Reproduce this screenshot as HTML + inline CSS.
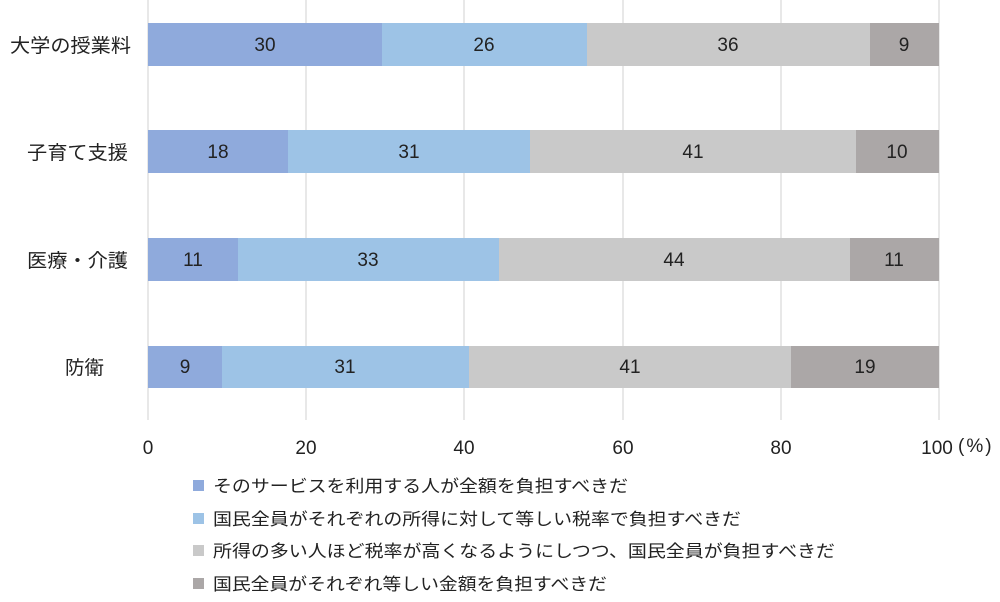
<!DOCTYPE html>
<html><head><meta charset="utf-8"><style>
body{margin:0;width:1000px;height:597px;background:#fff;overflow:hidden;font-family:"Liberation Sans","Noto Sans CJK JP",sans-serif;}
svg text{font-family:"Liberation Sans","Noto Sans CJK JP",sans-serif;}
</style></head><body>
<svg width="1000" height="597" xmlns="http://www.w3.org/2000/svg">
<g stroke="#d9d9d9" stroke-width="1.2">
<line x1="148" y1="0" x2="148" y2="420"/><line x1="306" y1="0" x2="306" y2="420"/><line x1="464" y1="0" x2="464" y2="420"/><line x1="623" y1="0" x2="623" y2="420"/><line x1="781" y1="0" x2="781" y2="420"/><line x1="939" y1="0" x2="939" y2="420"/>
</g>
<g font-size="19" fill="#222" text-anchor="middle">
<rect x="148" y="23" width="234" height="43" fill="#8FAADC"/><rect x="382" y="23" width="205" height="43" fill="#9DC3E6"/><rect x="587" y="23" width="283" height="43" fill="#C9C9C9"/><rect x="870" y="23" width="69" height="43" fill="#ABA7A7"/>
<text x="265" y="51">30</text><text x="484" y="51">26</text><text x="728" y="51">36</text><text x="904" y="51">9</text>
<rect x="148" y="130" width="140" height="43" fill="#8FAADC"/><rect x="288" y="130" width="242" height="43" fill="#9DC3E6"/><rect x="530" y="130" width="326" height="43" fill="#C9C9C9"/><rect x="856" y="130" width="83" height="43" fill="#ABA7A7"/>
<text x="218" y="158">18</text><text x="409" y="158">31</text><text x="693" y="158">41</text><text x="897" y="158">10</text>
<rect x="148" y="238" width="90" height="43" fill="#8FAADC"/><rect x="238" y="238" width="261" height="43" fill="#9DC3E6"/><rect x="499" y="238" width="351" height="43" fill="#C9C9C9"/><rect x="850" y="238" width="89" height="43" fill="#ABA7A7"/>
<text x="193" y="266">11</text><text x="368" y="266">33</text><text x="674" y="266">44</text><text x="894" y="266">11</text>
<rect x="148" y="346" width="74" height="42" fill="#8FAADC"/><rect x="222" y="346" width="247" height="42" fill="#9DC3E6"/><rect x="469" y="346" width="322" height="42" fill="#C9C9C9"/><rect x="791" y="346" width="148" height="42" fill="#ABA7A7"/>
<text x="185" y="373">9</text><text x="345" y="373">31</text><text x="630" y="373">41</text><text x="865" y="373">19</text>
</g>
<g font-size="19" fill="#222">
<text x="10" y="52" textLength="121" lengthAdjust="spacingAndGlyphs">大学の授業料</text>
<text x="27" y="159" textLength="101" lengthAdjust="spacingAndGlyphs">子育て支援</text>
<text x="27" y="267" textLength="101" lengthAdjust="spacingAndGlyphs">医療・介護</text>
<text x="65" y="374" textLength="39" lengthAdjust="spacingAndGlyphs">防衛</text>
</g>
<g font-size="19" fill="#222" text-anchor="middle">
<text x="148" y="454">0</text><text x="306" y="454">20</text><text x="464" y="454">40</text><text x="623" y="454">60</text><text x="781" y="454">80</text><text x="937" y="454">100</text>
</g>
<text x="958" y="452" font-size="19" fill="#222" letter-spacing="2">(%)</text>
<g font-size="17" fill="#222">
<rect x="193" y="480" width="11" height="11" fill="#8FAADC"/><text x="213" y="492" textLength="415" lengthAdjust="spacingAndGlyphs">そのサービスを利用する人が全額を負担すべきだ</text>
<rect x="193" y="513" width="11" height="11" fill="#9DC3E6"/><text x="213" y="525" textLength="528" lengthAdjust="spacingAndGlyphs">国民全員がそれぞれの所得に対して等しい税率で負担すべきだ</text>
<rect x="193" y="545" width="11" height="11" fill="#C9C9C9"/><text x="213" y="557" textLength="622" lengthAdjust="spacingAndGlyphs">所得の多い人ほど税率が高くなるようにしつつ、国民全員が負担すべきだ</text>
<rect x="193" y="578" width="11" height="11" fill="#ABA7A7"/><text x="213" y="590" textLength="394" lengthAdjust="spacingAndGlyphs">国民全員がそれぞれ等しい金額を負担すべきだ</text>
</g>
</svg>
</body></html>
